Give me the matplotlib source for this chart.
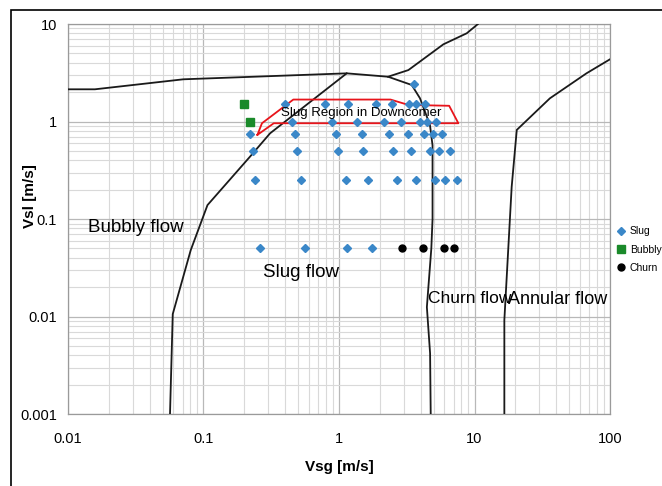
import matplotlib
matplotlib.use("Agg")
import matplotlib.pyplot as plt
from matplotlib.patches import Rectangle
from matplotlib.ticker import LogLocator, FuncFormatter, NullFormatter

plt.rcParams['font.family'] = ['Liberation Sans', 'DejaVu Sans']

# Measured points (Vsg, Vsl in m/s)
slug_vsg = [0.40, 0.79, 1.17, 1.87, 2.45, 3.3, 3.7, 4.3,
            3.6,
            0.45, 0.89, 1.35, 2.16, 2.87, 3.96, 4.44, 5.2,
            0.22, 0.47, 0.95, 1.47, 2.35, 3.25, 4.24, 4.92, 5.78,
            0.23, 0.49, 0.98, 1.51, 2.49, 3.4, 4.69, 5.47, 6.6,
            0.24, 0.52, 1.12, 1.65, 2.67, 3.7, 5.1, 6.06, 7.47,
            0.26, 0.56, 1.14, 1.74]
slug_vsl = [1.5] * 8 + [2.4] + [1.0] * 8 + [0.75] * 9 + [0.5] * 9 + [0.25] * 9 + [0.05] * 4

bubbly_vsg = [0.2, 0.22]
bubbly_vsl = [1.5, 1.0]

churn_vsg = [2.93, 4.15, 5.93, 7.06]
churn_vsl = [0.05, 0.05, 0.05, 0.05]

# Flow regime boundaries
top_vsg = [0.01, 0.0158, 0.071, 1.14, 2.3, 3.44, 3.96, 4.69, 4.9, 4.9, 4.8, 4.45, 4.7, 4.75]
top_vsl = [2.14, 2.14, 2.71, 3.12, 2.88, 2.37, 1.73, 0.92, 0.57, 0.1, 0.05, 0.0125, 0.0042, 0.001]

bubble_vsg = [0.0566, 0.0593, 0.0805, 0.107, 0.22, 0.31, 1.14]
bubble_vsl = [0.001, 0.0106, 0.048, 0.139, 0.435, 0.757, 3.12]

upper_vsg = [2.3, 3.25, 5.89, 8.76, 10.6]
upper_vsl = [2.88, 3.37, 6.19, 8.03, 10.0]

annular_vsg = [16.6, 16.6, 18.8, 20.5, 36, 67, 100]
annular_vsl = [0.001, 0.0092, 0.214, 0.82, 1.73, 3.12, 4.35]

region_vsg = [0.25, 0.27, 0.46, 2.4, 3.25, 6.5, 7.6, 0.33, 0.25]
region_vsl = [0.73, 0.96, 1.68, 1.68, 1.48, 1.45, 0.96, 0.96, 0.73]

fig = plt.figure(figsize=(6.62, 4.86), dpi=100)
ax = fig.add_axes([0.1027, 0.148, 0.8188, 0.8026])

ax.set_xscale('log')
ax.set_yscale('log')
ax.set_xlim(0.01, 100)
ax.set_ylim(0.001, 10)

ax.xaxis.set_major_locator(LogLocator(base=10))
ax.xaxis.set_minor_locator(LogLocator(base=10, subs=range(2, 10)))
ax.yaxis.set_major_locator(LogLocator(base=10))
ax.yaxis.set_minor_locator(LogLocator(base=10, subs=range(2, 10)))
fmt = FuncFormatter(lambda v, p: f"{v:g}")
ax.xaxis.set_major_formatter(fmt)
ax.yaxis.set_major_formatter(fmt)
ax.xaxis.set_minor_formatter(NullFormatter())
ax.yaxis.set_minor_formatter(NullFormatter())

ax.grid(True, which='major', color='#b8b8b8', lw=0.9)
ax.grid(True, which='minor', color='#d9d9d9', lw=0.8)
ax.set_axisbelow(True)
ax.tick_params(which='both', length=0, labelsize=10.5)
ax.tick_params(axis='x', pad=13)
ax.tick_params(axis='y', pad=8)
for s in ax.spines.values():
    s.set_color('#9a9a9a')
    s.set_linewidth(0.9)

# boundaries
for xs, ys in [(top_vsg, top_vsl), (bubble_vsg, bubble_vsl),
               (upper_vsg, upper_vsl), (annular_vsg, annular_vsl)]:
    ax.plot(xs, ys, color='#1a1a1a', lw=1.3, zorder=3)

ax.plot(region_vsg, region_vsl, color='#e8141b', lw=1.3, zorder=3)

ax.plot(slug_vsg, slug_vsl, 'D', color='#3a87c8', ms=3.7, ls='none', label='Slug', zorder=4)
ax.plot(bubbly_vsg, bubbly_vsl, 's', color='#1a8a2a', ms=5.5, ls='none', label='Bubbly', zorder=4)
ax.plot(churn_vsg, churn_vsl, 'o', color='black', ms=5, ls='none', label='Churn', zorder=4)

ax.text(1.47, 1.22, 'Slug Region in Downcomer', fontsize=9.5, ha='center', va='center', zorder=5)
ax.text(0.014, 0.081, 'Bubbly flow', fontsize=13.5, va='center')
ax.text(0.275, 0.0286, 'Slug flow', fontsize=13.5, va='center')
ax.text(4.54, 0.0152, 'Churn flow', fontsize=12.5, va='center')
ax.text(17.8, 0.0150, 'Annular flow', fontsize=13, va='center')

ax.set_xlabel('Vsg [m/s]', fontsize=11, fontweight='bold', labelpad=10)
ax.set_ylabel('Vsl [m/s]', fontsize=11, fontweight='bold')
ax.yaxis.set_label_coords(-0.057, 0.56)

ax.legend(loc='upper left', bbox_to_anchor=(1.0, 0.5), frameon=False, fontsize=7.5,
          handlelength=0.8, handletextpad=0.4, borderpad=0.2, labelspacing=0.8)

fig.patches.append(Rectangle((0.0166, -0.2), 1.2, 0.979 + 0.2, transform=fig.transFigure,
                             fill=False, ec='black', lw=1.2))

fig.savefig('out.png', dpi=100)
